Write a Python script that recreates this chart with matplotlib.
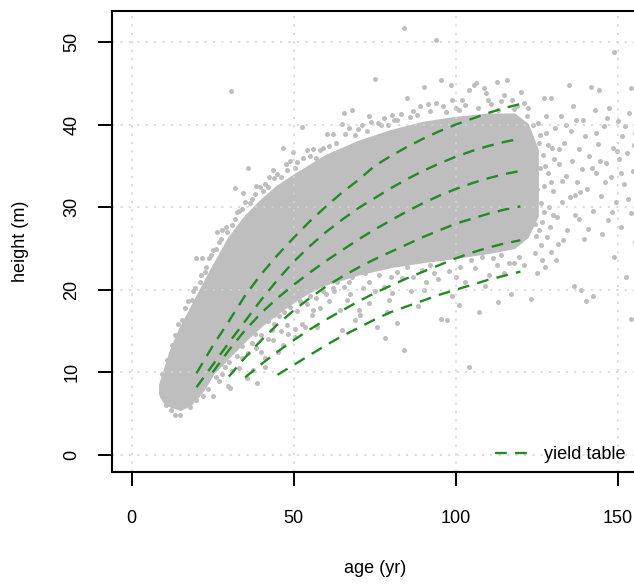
import matplotlib.pyplot as plt

plt.rcParams['font.family'] = ['Liberation Sans', 'DejaVu Sans']

# dense part of the measured tree cloud: age and lower/upper height bounds
core_age = [8.8, 10, 12, 15, 18, 20, 22, 25, 30, 35, 40, 45, 50, 55, 60, 70, 80, 90,
            100, 110, 118, 122, 125]
core_lo = [7.5, 6.5, 6.0, 5.6, 6.2, 7.0, 8.0, 10.0, 12.0, 14.0, 15.8, 17.3, 18.7, 19.9,
           20.8, 22.0, 22.9, 23.5, 24.0, 24.6, 25.2, 26.5, 29.0]
core_hi = [8.5, 10.0, 12.5, 15.3, 17.5, 19.0, 20.5, 22.7, 26.2, 28.8, 30.8, 32.5, 33.8,
           35.0, 36.2, 37.9, 39.2, 40.2, 40.8, 41.2, 41.2, 40.0, 37.0]

# single trees above the dense part
upper_age = [9.5, 10.8, 12.3, 13.5, 14.2, 15.4, 16.5, 17.5, 19, 20, 21.6, 21, 22.5, 24,
             25, 26.2, 27.5, 29, 30.7, 31.9, 32, 33, 34.5, 36, 36.5, 38, 39.5, 41, 42.5,
             43.7, 45, 46.8, 47.5, 49.9, 51, 52.5, 54.1, 56.1, 58.2, 60.3, 62.3, 64.9,
             65.4, 68, 70, 73.2, 75, 76, 78, 80.4, 82, 85, 84, 87, 90.2, 91.5, 93.8, 95.4,
             96, 98.5, 100, 102, 104.1, 105.7, 106.2, 108.7, 109.3, 111, 112.9, 114, 116,
             117.5, 120.1, 119,
             18.5, 19.5, 21.5, 23, 24.5, 26, 27, 28, 29.5, 31, 32.5, 34, 35, 37, 38.5,
             40.5, 42, 44, 46, 48, 49, 50.5, 53, 55, 57, 59, 61, 63, 66, 67, 69, 71,
             72.5, 74, 77, 79, 81, 83, 86, 88, 89, 92, 94, 97, 99, 101, 103, 107, 110,
             113, 115, 118, 121, 122]
upper_h = [9.8, 11.5, 13.3, 14.5, 15.8, 16.3, 17.8, 18.6, 19.8, 23.8, 23.8, 21.0, 22.2,
           23.8, 24.8, 27.0, 26.2, 27.6, 44.1, 32.3, 28.6, 29.5, 31.7, 34.7, 30.5, 31.6,
           32.4, 32.8, 33.6, 34.5, 34.0, 37.2, 35.2, 36.7, 35.5, 39.7, 36.9, 37.1, 36.9,
           38.9, 38.9, 40.1, 41.4, 41.8, 39.5, 41.0, 45.5, 40.2, 40.8, 41.2, 40.5, 43.2,
           51.7, 41.6, 44.6, 42.5, 50.3, 45.4, 42.3, 44.8, 42.0, 43.0, 44.2, 44.8, 45.0,
           44.4, 43.8, 42.5, 45.2, 42.8, 45.4, 43.0, 44.0, 42.3,
           18.8, 20.2, 21.8, 22.8, 24.2, 25.0, 25.8, 27.2, 27.0, 27.8, 29.4, 29.8, 30.6,
           31.0, 32.6, 32.0, 32.5, 33.5, 33.6, 34.5, 35.6, 34.8, 36.0, 36.2, 36.0, 37.2,
           37.4, 37.8, 38.9, 39.6, 38.8, 40.0, 39.2, 40.3, 39.9, 40.0, 40.6, 41.3, 40.9,
           41.2, 42.2, 41.6, 42.6, 41.5, 43.0, 41.8, 42.4, 42.0, 43.0, 41.8, 43.6, 41.9,
           42.6, 41.0]

# single trees below the dense part
lower_age = [9.2, 10.7, 12, 13.3, 14.8, 16.9, 18, 20, 22, 25.2, 23.5, 27, 28.8, 29.8, 30.3,
             31.9, 33.9, 35, 35.5, 37, 37.6, 38.1, 38.6, 41.2, 41.2, 43.2, 43.7, 45.3,
             46.8, 47.9, 48.4, 50.5, 50.5, 52.5, 53.6, 55.6, 56.1, 57.2, 58.2, 60, 62,
             64.4, 64.9, 66.5, 67, 69, 70.1, 70.6, 73.2, 73.2, 75.2, 77.8, 78.3, 78.8,
             79.4, 81.9, 83.5, 84.2, 86.1, 89.7, 90.2, 91, 93.3, 95.4, 97.4, 100, 104,
             104.6, 107.2, 110.3, 112.9, 115, 118,
             26, 27.5, 28, 30, 31, 32.5, 33, 34, 36, 36.5, 38.5, 39, 40, 42, 44, 46,
             40, 42, 44, 45.5, 47, 49, 51, 52, 54, 55, 57, 59, 61, 62.5, 63.5, 65.5,
             67.5, 68, 71.5, 72, 74, 76.5, 77, 80, 80.5, 82.5, 85, 87, 88, 92, 94.5, 96,
             98, 99, 101.5, 103, 106, 108, 109, 111.5, 114, 116.5, 119.5, 121, 117, 113,
             101, 88.5, 82, 75.8]
lower_h = [7.1, 6.1, 5.5, 4.8, 4.8, 6.3, 5.8, 6.7, 7.2, 7.1, 8.0, 9.0, 10.7, 8.3, 8.1,
           12.9, 11.7, 14.7, 9.3, 13.5, 10.3, 14.7, 8.7, 11.7, 10.7, 15.1, 13.9, 12.5,
           13.3, 15.7, 14.7, 14.3, 15.3, 15.9, 15.5, 16.9, 17.6, 15.5, 17.8, 19.5, 20.2,
           17.6, 15.1, 18.8, 21.0, 16.3, 17.6, 16.9, 18.4, 21.0, 19.8, 20.4, 14.2, 17.3,
           18.8, 22.2, 21.4, 12.7, 19.8, 22.4, 20.0, 20.9, 22.0, 16.5, 16.3, 21.5, 10.6,
           23.6, 17.3, 21.8, 23.0, 22.0, 23.2,
           9.5, 11.0, 9.8, 11.3, 10.2, 12.0, 10.5, 13.2, 12.3, 15.2, 13.0, 16.0, 12.5,
           14.0, 17.0, 15.0,
           14.5, 16.2, 15.8, 16.8, 17.3, 17.9, 17.4, 18.6, 18.3, 19.2, 19.0, 19.8, 18.7,
           19.9, 21.0, 20.3, 19.5, 21.6, 20.2, 22.0, 22.5, 21.8, 23.0, 21.5, 19.6, 23.3,
           22.8, 21.5, 23.8, 23.0, 21.3, 23.8, 22.3, 19.2, 22.8, 21.0, 22.6, 24.0, 20.5,
           23.8, 24.2, 23.3, 24.0, 23.0, 19.5, 18.5, 18.2, 18.0, 16.0, 15.5]

# old trees beyond the yield table range
old_age = [122.5, 123, 123.2, 123.5, 124, 124.2, 124.5, 124.8, 125, 125.5, 125.8, 126,
           126.3, 126.6, 126.8, 127, 127.3, 127.6, 127.8, 128.2, 128.4, 128.8, 129.4,
           127.3, 129.5, 129.8, 130.2, 130.8, 131.2, 131.5, 131.8, 132.5, 133, 133.5, 134,
           134.5, 135, 135.5, 136, 136.6, 136.8, 137.3, 137.6, 138, 138.2, 138.7, 139,
           139.5, 140, 140.2, 140.6, 141.2, 141.8, 142.3, 142.5, 143, 143.5, 144, 144.3,
           144.8, 145.3, 145.8, 146.5, 147, 147.5, 148, 148.5, 149, 149, 149.5, 150,
           150.5, 151, 151.5, 152, 152.6, 153, 153.5, 154, 154.2, 154.2, 154.8, 155.3,
           155.5,
           122.8, 123.6, 123.8, 124.6, 125.2, 125.6, 126.2, 126.5, 127.2, 127.5, 128,
           128.6, 129, 129.6, 130, 130.5, 131, 132, 132.8, 133.2, 134.2, 135.2, 136.2,
           137, 138.5, 139.2, 140.8, 142, 143.2, 144.6, 146, 146.8, 148.2, 149.8, 151.2,
           152.4, 153.2, 155, 155.8]
old_h = [42.0, 38.5, 18.9, 35.0, 33.2, 31.0, 28.0, 26.5, 22.0, 40.2, 37.8, 34.8, 30.5,
         23.6, 28.2, 36.3, 32.6, 22.8, 39.0, 26.4, 34.2, 30.0, 43.2, 43.2, 24.6, 37.2,
         32.0, 39.6, 28.8, 25.6, 35.2, 41.0, 30.6, 37.8, 33.8, 27.3, 44.8, 39.2, 35.6,
         20.5, 31.5, 40.6, 33.0, 37.0, 28.6, 20.0, 34.6, 26.2, 38.6, 18.7, 32.2, 36.2,
         44.6, 19.2, 29.6, 41.8, 34.2, 37.6, 44.2, 31.4, 26.8, 39.8, 35.3, 28.5, 42.0,
         33.6, 37.2, 24.0, 48.8, 30.6, 40.4, 35.8, 27.6, 38.6, 32.8, 21.6, 36.6, 41.4,
         29.3, 16.5, 44.4, 34.4, 39.0, 25.8,
         36.8, 29.5, 40.0, 24.5, 32.2, 27.2, 38.8, 25.4, 29.4, 35.0, 41.0, 37.5, 27.6,
         33.0, 29.0, 35.8, 23.6, 37.0, 33.2, 26.0, 40.0, 31.2, 42.2, 29.0, 31.8, 40.5,
         27.4, 34.8, 39.0, 35.6, 33.0, 40.8, 29.4, 36.8, 34.2, 39.8, 31.0, 37.5, 33.2]

# yield table top heights, one curve per site class (height 40..20 m at age 100)
yt_age = [20, 25, 30, 35, 40, 45, 50, 55, 60, 65, 70, 75, 80, 85, 90, 95, 100, 105, 110,
          115, 120]
yt_40 = [9.9, 13.2, 16.2, 19.3, 21.9, 24.2, 26.3, 28.3, 30.1, 31.8, 33.3, 35.0, 36.2,
         37.3, 38.3, 39.2, 40.0, 40.7, 41.4, 42.0, 42.5]
yt_36 = [8.2, 10.9, 13.6, 16.2, 18.8, 21.2, 23.4, 25.3, 27.0, 28.5, 29.9, 31.1, 32.3,
         33.4, 34.4, 35.3, 36.1, 36.8, 37.4, 37.9, 38.3]
yt_32 = [10.0, 12.7, 15.1, 17.2, 19.0, 20.6, 22.1, 23.5, 24.8, 26.1, 27.3, 28.4, 29.5,
         30.5, 31.4, 32.2, 32.9, 33.5, 34.0, 34.4]
yt_28 = [9.5, 11.8, 13.9, 15.8, 17.5, 19.0, 20.4, 21.6, 22.7, 23.7, 24.6, 25.5, 26.4,
         27.2, 28.0, 28.6, 29.2, 29.7, 30.1]
yt_24 = [9.4, 11.0, 12.5, 13.9, 15.2, 16.4, 17.5, 18.6, 19.6, 20.5, 21.4, 22.2, 23.0,
         23.8, 24.5, 25.1, 25.6, 26.0]
yt_20 = [9.7, 10.9, 12.1, 13.3, 14.4, 15.4, 16.4, 17.3, 18.0, 18.7, 19.4, 20.0, 20.6,
         21.2, 21.7, 22.2]

pt_col = '#BEBEBE'
yt_col = '#228B22'
dash = (0, (5, 3.5))

fig = plt.figure(figsize=(6.34, 5.85), dpi=100)
ax = fig.add_axes([0.1771, 0.193, 0.8276, 0.7884])

ax.fill_between(core_age, core_lo, core_hi, color=pt_col, lw=2.5, ec=pt_col, zorder=1)
for a, h in [(upper_age, upper_h), (lower_age, lower_h), (old_age, old_h)]:
    ax.scatter(a, h, s=13, color=pt_col, linewidths=0, zorder=1)

# dotted grid on top of the points
for gx in [0, 50, 100, 150]:
    ax.axvline(gx, color='#D3D3D3', lw=1.1, ls=(0, (1.5, 4)), zorder=2)
for gy in range(0, 51, 10):
    ax.axhline(gy, color='#D3D3D3', lw=1.1, ls=(0, (1.5, 4)), zorder=2)

curves = [yt_40, yt_36, yt_32, yt_28, yt_24, yt_20]
for i, c in enumerate(curves):
    ages = yt_age[len(yt_age) - len(c):]
    ax.plot(ages, c, color=yt_col, lw=1.7, ls=dash, zorder=3,
            label='yield table' if i == 0 else None)

ax.set_xlim(-6, 156)
ax.set_ylim(-2.07, 53.77)
ax.set_xticks([0, 50, 100, 150])
ax.set_yticks([0, 10, 20, 30, 40, 50])
ax.tick_params(length=10, width=1.4, labelsize=13, color='black')
ax.tick_params(axis='x', pad=17)
ax.tick_params(axis='y', pad=13, labelrotation=90)
for lbl in ax.get_yticklabels():
    lbl.set_va('center')
for sp in ax.spines.values():
    sp.set_linewidth(1.5)

ax.set_xlabel('age (yr)', fontsize=13, labelpad=24)
ax.set_ylabel('height (m)', fontsize=13, labelpad=25)

ax.legend(loc='lower right', bbox_to_anchor=(0.985, 0.012), frameon=False, fontsize=13,
          handlelength=1.8, handletextpad=0.9, borderpad=0.2, borderaxespad=0)

fig.savefig('out.png', dpi=100)
